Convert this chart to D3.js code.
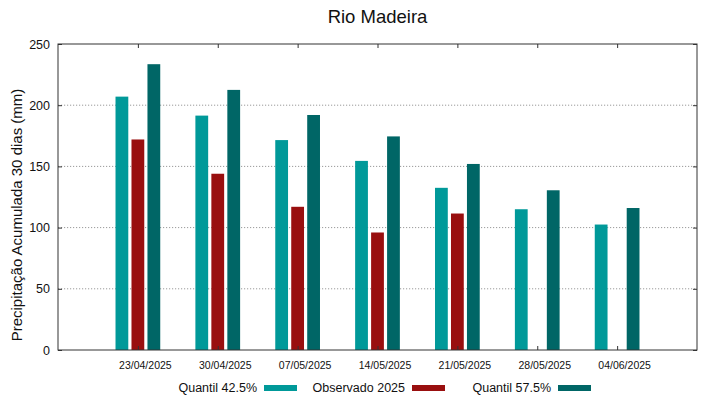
<!DOCTYPE html>
<html>
<head>
<meta charset="utf-8">
<script src="https://cdn.jsdelivr.net/npm/d3@7"></script>
<style>
  body { margin: 0; background: #fff; }
  text { font-family: "Liberation Sans", Arial, sans-serif; fill: #111; }
</style>
</head>
<body>
<div id="chart-area"></div>
<script>

// Data
var dates = ["23/04/2025", "30/04/2025", "07/05/2025", "14/05/2025", "21/05/2025", "28/05/2025", "04/06/2025"];
var quantil425 = [207, 191.5, 171.5, 154.5, 132.5, 115, 102.5];
var observado = [172, 144, 117, 96, 111.5, null, null];
var quantil575 = [233.5, 212.5, 192, 174.5, 152, 130.5, 116];
var yTicks = [0, 50, 100, 150, 200, 250];

var seriesNames = ["Quantil 42.5%", "Observado 2025", "Quantil 57.5%"];
var colors = ["#009999", "#990f0f", "#006666"];

var margin = { left: 58, right: 22, top: 44, bottom: 49 },
    W = 719, H = 399,
    width = W - margin.left - margin.right,
    height = H - margin.top - margin.bottom;

var svg = d3.select("#chart-area").append("svg")
    .attr("width", W)
    .attr("height", H);

var g = svg.append("g")
    .attr("transform", "translate(" + margin.left + "," + margin.top + ")");

// Scales: categories sit at 1..7 on a 0..8 axis
var x = d3.scaleLinear().domain([0, 8]).range([0, width]);
var y = d3.scaleLinear().domain([0, 250]).range([height, 0]);

var barW = 0.16, pitch = 0.2;

// Grid lines
g.selectAll(".grid")
    .data(yTicks.filter(function(d){ return d > 0 && d < 250; }))
    .enter().append("line")
    .attr("class", "grid")
    .attr("x1", 0).attr("x2", width)
    .attr("y1", function(d){ return y(d); })
    .attr("y2", function(d){ return y(d); })
    .attr("stroke", "#9a9a9a")
    .attr("stroke-width", 1)
    .attr("stroke-dasharray", "1.2,1.8");

// Bars
var allSeries = [quantil425, observado, quantil575];
allSeries.forEach(function(vals, s){
    g.selectAll(".bar" + s)
        .data(vals.map(function(v, i){ return { i: i, v: v }; })
            .filter(function(d){ return d.v != null; }))
        .enter().append("rect")
        .attr("class", "bar" + s)
        .attr("x", function(d){ return x(d.i + 1 + (s - 1) * pitch - barW / 2); })
        .attr("width", x(barW) - x(0))
        .attr("y", function(d){ return y(d.v); })
        .attr("height", function(d){ return height - y(d.v); })
        .attr("fill", colors[s]);
});

// Axes
var xAxisCall = d3.axisBottom(x)
    .tickValues(d3.range(1, 8))
    .tickFormat(function(d){ return dates[d - 1]; })
    .tickSizeInner(-4).tickSizeOuter(0).tickPadding(12);

var xAxis = g.append("g")
    .attr("class", "x axis")
    .attr("transform", "translate(0," + height + ")")
    .call(xAxisCall);
xAxis.selectAll("text").attr("font-size", "10.5px")
    .attr("dx", 7)
    .style("font-family", "Liberation Sans, Arial, sans-serif").attr("fill", "#111");

var xTop = g.append("g")
    .call(d3.axisTop(x).tickValues(d3.range(1, 8)).tickFormat("")
        .tickSizeInner(-4).tickSizeOuter(0));

var yAxisCall = d3.axisLeft(y)
    .tickValues(yTicks)
    .tickSizeInner(-4).tickSizeOuter(0).tickPadding(8);

var yAxis = g.append("g")
    .attr("class", "y axis")
    .call(yAxisCall);
yAxis.selectAll("text").attr("font-size", "12.5px")
    .style("font-family", "Liberation Sans, Arial, sans-serif").attr("fill", "#111");

var yRight = g.append("g")
    .attr("transform", "translate(" + width + ",0)")
    .call(d3.axisRight(y).tickValues(yTicks).tickFormat("")
        .tickSizeInner(-4).tickSizeOuter(0));

[xAxis, xTop, yAxis, yRight].forEach(function(a){
    a.select(".domain").remove();
    a.selectAll("line").attr("stroke", "#333");
});

// Frame
g.append("rect")
    .attr("width", width).attr("height", height)
    .attr("fill", "none").attr("stroke", "#333").attr("stroke-width", 1);

// Labels
svg.append("text")
    .attr("x", margin.left + width / 2)
    .attr("y", 23)
    .attr("text-anchor", "middle")
    .attr("font-size", "18.5px")
    .text("Rio Madeira");

svg.append("text")
    .attr("transform", "rotate(-90)")
    .attr("x", -215)
    .attr("y", 22)
    .attr("text-anchor", "middle")
    .attr("font-size", "15px")
    .text("Precipitação Acumulada 30 dias (mm)");

// Legend
var legendX = [264, 412, 558];
seriesNames.forEach(function(name, s){
    svg.append("rect")
        .attr("x", legendX[s]).attr("y", 385)
        .attr("width", 33).attr("height", 6)
        .attr("fill", colors[s]);
    svg.append("text")
        .attr("x", legendX[s] - 7).attr("y", 392)
        .attr("text-anchor", "end")
        .attr("font-size", "12.5px")
        .text(name);
});

</script>
</body>
</html>
